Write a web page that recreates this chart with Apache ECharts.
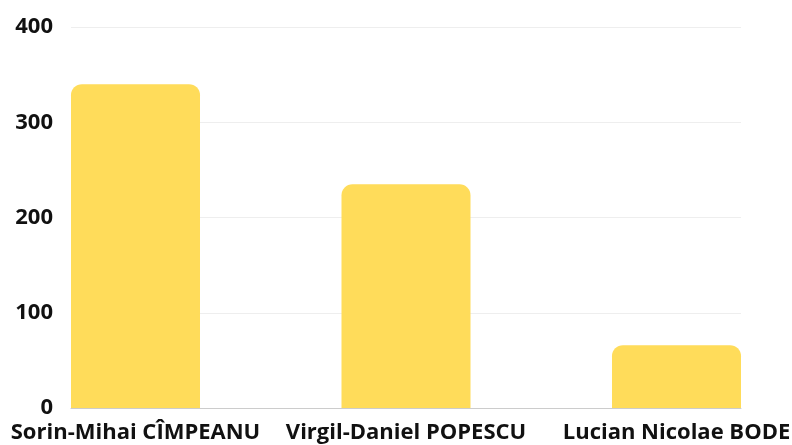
<!DOCTYPE html>
<html>
<head>
<meta charset="utf-8">
<script src="https://cdn.jsdelivr.net/npm/echarts@6/dist/echarts.min.js"></script>
<style>
  html, body { margin: 0; padding: 0; background: #fff; }
  #chart { width: 792px; height: 445px; }
</style>
</head>
<body>
<div id="chart"></div>
<script>
var categories = ['Sorin-Mihai CÎMPEANU', 'Virgil-Daniel POPESCU', 'Lucian Nicolae BODE'];
var values = [340, 235, 66];
var yTicks = [0, 100, 200, 300, 400];

var chart = echarts.init(document.getElementById('chart'), null, { renderer: 'canvas' });

var font = '"Open Sans", sans-serif';

// grid 0 carries the value axis and the gridlines, grid 1 places the bars edge to edge
var option = {
  animation: false,
  grid: [
    { left: 71, right: 51, top: 27, bottom: 37, outerBoundsMode: 'none', containLabel: false },
    { left: 135.5, right: 115.5, top: 27, bottom: 37, outerBoundsMode: 'none', containLabel: false }
  ],
  xAxis: [
    {
      type: 'category',
      gridIndex: 0,
      data: categories,
      axisLine: { show: true, lineStyle: { color: '#cccccc', width: 1 } },
      axisTick: { show: false },
      axisLabel: { show: false }
    },
    {
      type: 'category',
      gridIndex: 1,
      data: categories,
      boundaryGap: false,
      axisLine: { show: false },
      axisTick: { show: false },
      axisLabel: {
        color: '#111111',
        fontFamily: font,
        fontWeight: 'bold',
        fontSize: 22,
        margin: 14,
        interval: 0,
        hideOverlap: false
      }
    }
  ],
  yAxis: [
    {
      type: 'value',
      gridIndex: 0,
      min: yTicks[0],
      max: yTicks[yTicks.length - 1],
      interval: 100,
      axisLine: { show: false },
      axisTick: { show: false },
      splitLine: { lineStyle: { color: '#eeeeee', width: 1 } },
      axisLabel: {
        color: '#111111',
        fontFamily: font,
        fontWeight: 'bold',
        fontSize: 22,
        margin: 18
      }
    },
    {
      type: 'value',
      gridIndex: 1,
      min: yTicks[0],
      max: yTicks[yTicks.length - 1],
      interval: 100,
      show: false,
      splitLine: { show: false }
    }
  ],
  series: [
    {
      type: 'bar',
      xAxisIndex: 1,
      yAxisIndex: 1,
      data: values,
      barWidth: 129,
      itemStyle: {
        color: '#FFDC5A',
        borderRadius: [11, 11, 0, 0]
      }
    }
  ]
};

chart.setOption(option);
</script>
</body>
</html>
